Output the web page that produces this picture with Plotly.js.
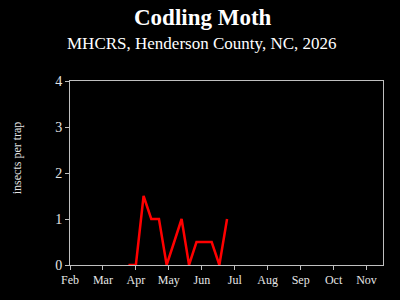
<!DOCTYPE html>
<html><head><meta charset="utf-8">
<script src="https://cdn.plot.ly/plotly-3.0.1.min.js"></script>
<style>html,body{margin:0;padding:0;background:#000;}#c{width:400px;height:300px;}</style>
</head><body><div id="c"></div>
<script>
const dates = ["2026-03-25","2026-04-01","2026-04-08","2026-04-15","2026-04-22","2026-04-29","2026-05-06","2026-05-13","2026-05-20","2026-05-27","2026-06-03","2026-06-10","2026-06-17","2026-06-24"];
const counts = [0,0,1.5,1,1,0,0.5,1,0,0.5,0.5,0.5,0,1];
const monthTicks = [2,3,4,5,6,7,8,9,10,11];
const monthLabels = ["Feb","Mar","Apr","May","Jun","Jul","Aug","Sep","Oct","Nov"];
const titleText = "Codling Moth";
const subtitleText = "MHCRS, Henderson County, NC, 2026";
const yTitle = "insects per trap";

function monthPos(s){
  const [y,m,d] = s.split("-").map(Number);
  const dim = new Date(y, m, 0).getDate();
  return m + (d-1)/dim;
}
const xs = dates.map(monthPos);

const font = "Liberation Serif, DejaVu Serif, serif";
Plotly.newPlot("c", [{
  x: xs, y: counts, text: dates, type: "scatter", mode: "lines",
  line: {color: "#ff0000", width: 2.5}, hoverinfo: "text+y"
}], {
  width: 400, height: 300,
  paper_bgcolor: "#000", plot_bgcolor: "#000",
  margin: {l: 70, r: 17, t: 81, b: 35},
  font: {family: font, color: "#e6e6e6", size: 13},
  showlegend: false,
  annotations: [
    {text: "<b>" + titleText + "</b>", xref: "paper", yref: "paper", x: (203-70)/313, xanchor: "center",
     y: 1 + (81-18)/184, yanchor: "middle", showarrow: false,
     font: {family: font, size: 23, color: "#ffffff"}},
    {text: subtitleText, xref: "paper", yref: "paper", x: (202-70)/313, xanchor: "center",
     y: 1 + (81-44)/184, yanchor: "middle", showarrow: false,
     font: {family: font, size: 17, color: "#ffffff"}},
    {text: yTitle, xref: "paper", yref: "paper", x: -(70-17)/313, xanchor: "center",
     y: 0.58, yanchor: "middle", textangle: -90, showarrow: false,
     font: {family: font, size: 12, color: "#e6e6e6"}}
  ],
  xaxis: {
    range: [2, 11.5], tickvals: monthTicks, ticktext: monthLabels,
    showgrid: false, zeroline: false, showline: true, mirror: true,
    linecolor: "#bfbfbf", linewidth: 1, ticks: "outside", ticklen: 4,
    tickcolor: "#bfbfbf", tickfont: {family: font, size: 12, color: "#e6e6e6"}
  },
  yaxis: {
    range: [0, 4], tickvals: [0,1,2,3,4],
    showgrid: false, zeroline: false, showline: true, mirror: true,
    linecolor: "#bfbfbf", linewidth: 1, ticks: "outside", ticklen: 4,
    tickcolor: "#bfbfbf", tickfont: {family: font, size: 14, color: "#e6e6e6"}
  }
}, {displayModeBar: false, staticPlot: true});
</script></body></html>
